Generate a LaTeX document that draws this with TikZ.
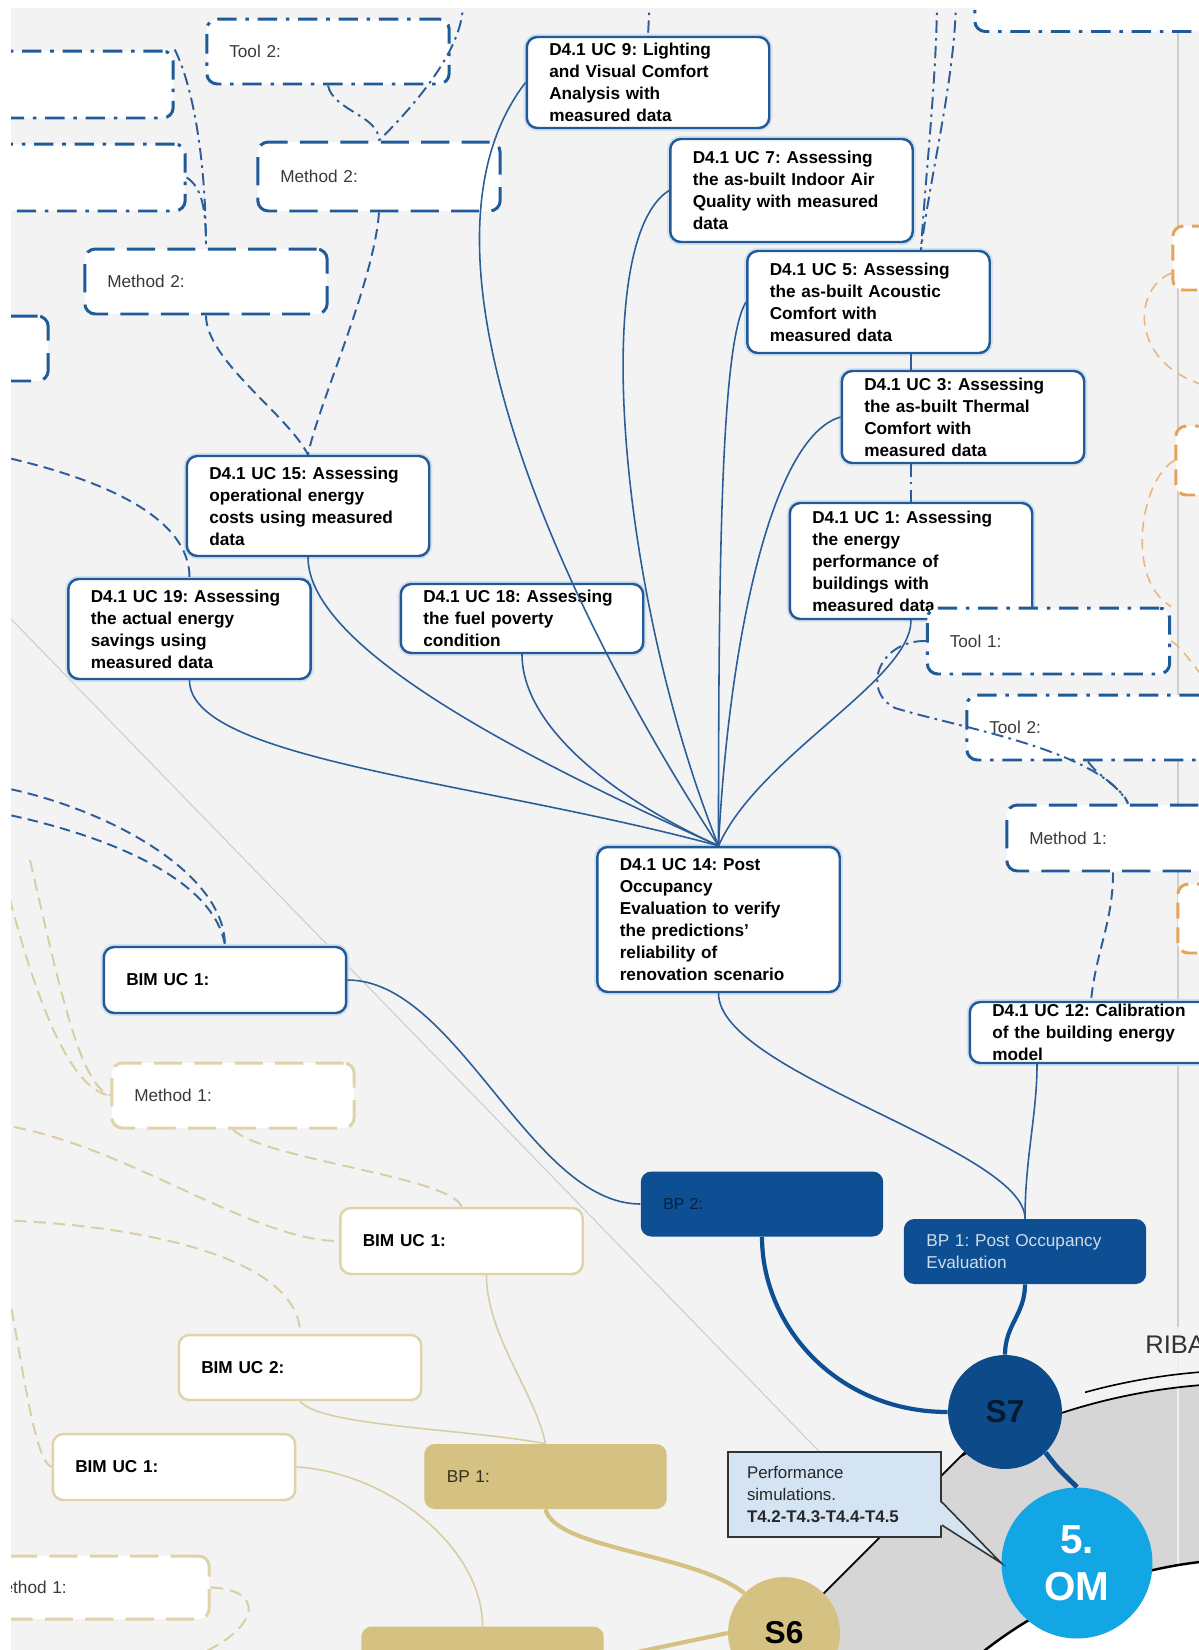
\documentclass[tikz,border=0pt]{standalone}
\usepackage{fontspec}
\setmainfont{Liberation Sans}
\usetikzlibrary{positioning, calc}
\frenchspacing

\definecolor{pagebg}{HTML}{F3F3F3}
\definecolor{ucline}{HTML}{1F5A99}
\definecolor{linkblue}{HTML}{2B5E98}
\definecolor{bpblue}{HTML}{0E4F94}
\definecolor{stageblue}{HTML}{0D4A8A}
\definecolor{omcyan}{HTML}{12A7E4}
\definecolor{tanfill}{HTML}{D5C182}
\definecolor{tanline}{HTML}{E0D3A8}
\definecolor{tanlink}{HTML}{D9CDA3}
\definecolor{ringgray}{HTML}{D6D6D6}
\definecolor{perffill}{HTML}{D5E4F3}
\definecolor{orline}{HTML}{E6A45A}
\definecolor{textgray}{HTML}{3A3A3A}
\definecolor{guidegray}{HTML}{CDCDCD}

\newcommand{\boxfont}{\fontsize{9.8}{12.5}\selectfont}

\begin{document}
\begin{tikzpicture}[
    x=0.02cm, y=-0.02cm,
    boxbase/.style={rounded corners=6pt, fill=white, align=left, text width=3.95cm, inner xsep=0.45cm, inner ysep=2pt, font=\boxfont, minimum height=1.3cm},
    ucbox/.style={boxbase, draw=ucline, line width=1.4pt, font=\boxfont\bfseries, preaction={draw=ucline!18, line width=3.6pt}},
    methbox/.style={boxbase, draw=ucline, line width=1.7pt, dash pattern=on 16pt off 7pt, text=textgray},
    toolbox/.style={methbox, dash pattern=on 11pt off 5pt on 2pt off 5pt},
    bimbox/.style={boxbase, draw=tanline, line width=1.4pt, font=\boxfont\bfseries},
    tanmeth/.style={methbox, draw=tanline},
    orbox/.style={methbox, draw=orline, dash pattern=on 9pt off 5pt},
    bpbox/.style={boxbase, fill=bpblue, font=\boxfont},
    tanbp/.style={boxbase, fill=tanfill, text=black!75!tanfill},
    stage/.style={circle, inner sep=0pt, font=\fontsize{18}{20}\selectfont\bfseries},
    link/.style={draw=linkblue, line width=0.9pt},
    dlink/.style={link, line width=1.1pt, dash pattern=on 6pt off 3.5pt},
    ddlink/.style={link, line width=1.1pt, dash pattern=on 7pt off 3pt on 1.5pt off 3pt},
    thicklink/.style={draw=bpblue, line width=2.4pt},
    tlink/.style={draw=tanlink, line width=0.9pt},
    tdlink/.style={tlink, line width=1.1pt, dash pattern=on 7pt off 4pt},
    tthick/.style={draw=tanfill, line width=2.4pt},
    olink/.style={draw=orline!80, line width=0.9pt, dash pattern=on 6pt off 4pt}
]
\useasboundingbox (0,0) rectangle (1199,1650);
\fill[white] (0,0) rectangle (1199,1650);
\begin{scope}
\clip (11,8) rectangle (1199,1650);
\fill[pagebg] (11,8) rectangle (1199,1650);

% faint guide lines
\draw[guidegray, line width=0.6pt] (11,619) -- (1012,1650);
\draw[guidegray, line width=0.8pt] (1178,8) -- (1178,1650);

% wheel
\coordinate (wheel) at (1250,1990);
\coordinate (s7c) at (1005,1412);
\coordinate (s6c) at (784,1633);
\begin{scope}
  \clip (700,1717) -- (1090,1327) -- (1300,1327) -- (1300,1717) -- cycle;
  \fill[ringgray] (wheel) circle[radius=12.14cm];
  \draw[white!55!ringgray, line width=0.8pt] (1178,1300) -- (1178,1650);
  \fill[white] (wheel) circle[radius=8.62cm];
  \draw[black, line width=1pt] (wheel) circle[radius=12.14cm];
  \draw[black, line width=1.4pt] (wheel) circle[radius=8.62cm];
\end{scope}
\begin{scope}
  \clip (1085,1300) rectangle (1199,1420);
  \draw[black, line width=0.9pt] (wheel) circle[radius=12.4cm];
\end{scope}
\draw[black, line width=1pt] (s6c) -- (s7c);
\node[anchor=base west, font=\fontsize{14.5}{16}\selectfont, text=black!80, inner sep=0pt] (riba) at (1145,1353) {RIBA};

% blue branch
\node[toolbox] (tool2t) at (328,51.5) {Tool 2:};
\node[methbox, minimum height=1.38cm] (meth2u) at (379,176.5) {Method 2:};
\node[methbox] (meth2l) at (206,281.5) {Method 2:};
\node[toolbox, minimum height=1.34cm] (toolb1) at (52,84.5) {};
\node[toolbox, minimum height=1.34cm] (toolb2) at (64,177.5) {};
\node[methbox] (methb3) at (-73,348.5) {};
\node[toolbox] (toolc) at (1096,-1) {};

\node[ucbox, minimum height=1.82cm] (uc9) at (648,82.5) {D4.1 UC 9: Lighting\\and Visual Comfort\\Analysis with\\measured data};
\node[ucbox, minimum height=2.06cm] (uc7) at (791.5,190.5) {D4.1 UC 7: Assessing\\the as-built Indoor Air\\Quality with measured\\data};
\node[ucbox, minimum height=2.04cm] (uc5) at (868.5,302) {D4.1 UC 5: Assessing\\the as-built Acoustic\\Comfort with\\measured data};
\node[ucbox, minimum height=1.84cm] (uc3) at (963,417) {D4.1 UC 3: Assessing\\the as-built Thermal\\Comfort with\\measured data};
\node[ucbox, minimum height=2.32cm] (uc1) at (911,561) {D4.1 UC 1: Assessing\\the energy\\performance of\\buildings with\\measured data};
\node[ucbox, minimum height=2.0cm] (uc15) at (308,506) {D4.1 UC 15: Assessing\\operational energy\\costs using measured\\data};
\node[ucbox, minimum height=2.0cm] (uc19) at (189.5,629) {D4.1 UC 19: Assessing\\the actual energy\\savings using\\measured data};
\node[ucbox, minimum height=1.38cm] (uc18) at (522,618.5) {D4.1 UC 18: Assessing\\the fuel poverty\\condition};
\node[toolbox, minimum height=1.32cm] (tool1r) at (1048.5,641) {Tool 1:};
\node[toolbox] (tool2r) at (1088,727.5) {Tool 2:};
\node[methbox, minimum height=1.32cm] (meth1r) at (1128,838) {Method 1:};
\node[ucbox, minimum height=2.9cm] (uc14) at (718.5,919.5) {D4.1 UC 14: Post\\Occupancy\\Evaluation to verify\\the predictions’\\reliability of\\renovation scenario};
\node[ucbox, minimum height=1.22cm, inner ysep=0.5pt] (uc12) at (1091,1032.5) {D4.1 UC 12: Calibration\\of the building energy\\model};
\node[ucbox, minimum height=1.32cm] (bim1b) at (225,980) {BIM UC 1:};
\node[bpbox, text=bpblue!40!black, font=\fontsize{9}{10}\selectfont] (bp2) at (762,1204) {BP 2:};
\node[bpbox, text=white!80!bpblue] (bp1) at (1025,1251.5) {BP 1: Post Occupancy\\Evaluation};

% tan branch
\node[tanmeth] (meth1t) at (233,1095.5) {Method 1:};
\node[bimbox, minimum height=1.32cm] (bim1m) at (461.5,1241) {BIM UC 1:};
\node[bimbox] (bim2) at (300,1367.5) {BIM UC 2:};
\node[bimbox, minimum height=1.32cm] (bim1l) at (174,1467) {BIM UC 1:};
\node[tanbp] (bp1t) at (545.5,1476.5) {BP 1:};
\node[tanmeth, minimum height=1.26cm] (meth1tl) at (88,1587.5) {Method 1:};
\node[tanbp] (bpbot) at (482.5,1659) {};

% orange branch
\node[orbox, minimum height=1.28cm] (orb1) at (1294,258) {};
\node[orbox, minimum height=1.38cm] (orb2) at (1297,460.5) {};
\node[orbox, minimum height=1.38cm] (orb3) at (1299,918.5) {};

% stages
\node[stage, fill=stageblue, text=stageblue!35!black, minimum size=2.28cm] (s7) at (s7c) {S7};
\node[stage, fill=omcyan, text=white, minimum size=3.02cm, align=center, font=\fontsize{23}{27}\selectfont\bfseries] (om) at (1077,1563) {5.\\OM};
\node[stage, fill=tanfill, text=black, minimum size=2.24cm] (s6) at (s6c) {S6};

% callout
\node[draw=black!80, line width=0.9pt, fill=perffill, text width=3.5cm, inner xsep=0.38cm, inner ysep=2pt, minimum height=1.7cm, align=left, font=\fontsize{9.6}{12.4}\selectfont, text=black!85] (perf) at (834.5,1494.5) {Performance\\simulations.\\\textbf{T4.2-T4.3-T4.4-T4.5}};
\fill[perffill] ([yshift=-0.15cm, xshift=-1pt]perf.east) -- (om.west) -- ([yshift=-0.61cm, xshift=-1pt]perf.east) -- cycle;
\draw[black!80, line width=0.9pt] ([yshift=-0.15cm]perf.east) -- (om.west) -- ([yshift=-0.61cm]perf.east);

% loose ends
\coordinate (topa) at (462,-5);
\coordinate (topb) at (650,-5);
\coordinate (topc) at (937,-5);
\coordinate (topd) at (956,-5);
\coordinate (lfa) at (-5,455);
\coordinate (lfb) at (-5,786);
\coordinate (lfc) at (-5,812);
\coordinate (lta) at (-5,1124);
\coordinate (ltb) at (-5,1220);
\coordinate (ltc) at (8,1290);
\coordinate (ltd) at (5,880);
\coordinate (lte) at (30,860);
\coordinate (ltf) at (170,1665);
\coordinate (ora) at (1215,388);
\coordinate (orc) at (1215,690);

% links into UC 14
\draw[link] (uc19.south) .. controls +(0,80) and +(-240,-65) .. (uc14.north);
\draw[link] (uc15.south) .. controls +(0,90) and +(-200,-90) .. (uc14.north);
\draw[link] (uc18.south) .. controls +(0,70) and +(-110,-50) .. (uc14.north);
\draw[link] (uc9.west) .. controls +(-128,166) and +(-158,-242) .. (uc14.north);
\draw[link] (uc7.west) .. controls +(-80,50) and +(-100,-250) .. (uc14.north);
\draw[link] (uc5.west) .. controls +(-25,40) and +(0,-285) .. (uc14.north);
\draw[link] (uc3.west) .. controls +(-70,20) and +(10,-200) .. (uc14.north);
\draw[link] (uc1.south) .. controls +(0,60) and +(40,-90) .. (uc14.north);

\draw[link] (uc14.south) .. controls +(0,80) and +(0,-70) .. (bp1.north);
\draw[link] ([xshift=-1.08cm]uc12.south) .. controls +(0,50) and +(0,-60) .. (bp1.north);
\draw[link] (bim1b.east) .. controls +(110,0) and +(-110,0) .. (bp2.west);
\draw[thicklink] (bp2.south) .. controls +(0,90) and +(-110,0) .. (s7.west);
\draw[thicklink] (bp1.south) .. controls +(0,30) and +(0,-30) .. (s7.north);
\draw[thicklink, line width=2.8pt] (s7.south east) .. controls +(15,20) and +(-15,-15) .. (om.north);

\draw[dlink] (meth2l.south) .. controls +(0,45) and +(-20,-40) .. (uc15.north);
\draw[dlink] (meth2u.south) .. controls +(-5,70) and +(10,-50) .. (uc15.north);
\draw[dlink] (lfa) .. controls (110,480) and (190,520) .. (uc19.north);
\draw[dlink] (lfb) .. controls (100,805) and (225,870) .. (bim1b.north);
\draw[dlink] (lfc) .. controls (110,835) and (215,880) .. (bim1b.north);
\draw[dlink] ([xshift=-0.3cm]meth1r.south) .. controls +(0,50) and +(5,-50) .. (uc12.north);

\draw[ddlink] (toolb1.north east) .. controls +(20,40) and +(0,-80) .. (meth2l.north);
\draw[ddlink] (toolb2.east) .. controls +(15,10) and +(0,-40) .. (meth2l.north);
\draw[ddlink] (tool2t.south) .. controls +(5,25) and +(0,-25) .. (meth2u.north);
\draw[ddlink] (topa) .. controls (470,40) and (420,100) .. (meth2u.north);
\draw[ddlink] (topb) -- (uc9.north);
\draw[ddlink] (topc) .. controls +(0,80) and +(5,-80) .. ([xshift=1.05cm]uc5.north);
\draw[ddlink] (topd) .. controls +(0,80) and +(10,-80) .. ([xshift=1.05cm]uc5.north);
\draw[link] (uc5.south -| uc1.north) -- (uc3.north -| uc1.north);
\draw[ddlink] (uc3.south -| uc1.north) -- (uc1.north);
\draw[ddlink] (tool1r.west) .. controls (880,640) and (860,690) .. (895,708) .. controls (960,728) and (1100,750) .. (meth1r.north);
\draw[ddlink] (tool2r.south) .. controls +(10,15) and +(-5,-15) .. (meth1r.north);

% tan links
\draw[tthick] (bp1t.south) .. controls +(10,40) and +(-50,-40) .. (s6.north west);
\draw[tthick] (bpbot.east) -- (s6.west);
\draw[tlink] ([xshift=0.5cm]bim1m.south) .. controls +(0,60) and +(-10,-50) .. (bp1t.north);
\draw[tlink] (bim2.south) .. controls +(20,25) and +(-80,-15) .. (bp1t.north);
\draw[tlink] (bim1l.east) .. controls +(90,5) and +(0,-80) .. (bpbot.north);
\draw[tdlink] (meth1t.south) .. controls +(30,30) and +(-10,-30) .. (bim1m.north);
\draw[tdlink] (lta) .. controls (120,1140) and (250,1241) .. (bim1m.west);
\draw[tdlink] (ltb) .. controls (150,1225) and (300,1260) .. (bim2.north);
\draw[tdlink] (ltc) .. controls (25,1380) and (35,1460) .. (bim1l.west);
\draw[tdlink] (ltd) .. controls (35,1000) and (70,1090) .. (meth1t.west);
\draw[tdlink] (lte) .. controls (60,990) and (80,1085) .. (meth1t.west);
\draw[tdlink] (meth1tl.east) .. controls (275,1590) and (255,1640) .. (ltf);

% orange links
\draw[olink] ([yshift=-0.3cm]orb1.west) .. controls (1130,290) and (1130,370) .. (ora);
\draw[olink] (orb2.west) .. controls (1140,480) and (1125,580) .. (tool1r.north east);
\draw[olink] (tool1r.east) .. controls (1185,650) and (1195,670) .. (orc);
\end{scope}
\end{tikzpicture}
\end{document}
